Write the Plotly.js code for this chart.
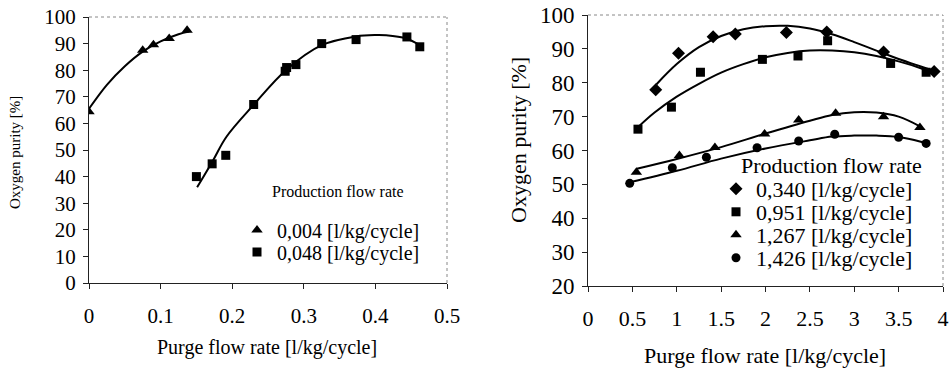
<!DOCTYPE html>
<html><head><meta charset="utf-8">
<script src="https://cdn.plot.ly/plotly-3.0.1.min.js"></script>
<style>body{margin:0;background:#fff}#c{width:951px;height:369px}</style></head>
<body><div id="c"></div>
<script>
// ---- Left chart data ----
const leftTriX = [0.0, 0.075, 0.090, 0.112, 0.137];
const leftTriY = [64.4, 87.5, 89.6, 91.9, 95.0];
const leftTriFitX = [0, 0.025, 0.05, 0.075, 0.1, 0.125, 0.14];
const leftTriFitY = [65.5, 74.5, 81.5, 87.0, 90.8, 93.5, 94.5];
const leftSqX = [0.150, 0.172, 0.191, 0.230, 0.274, 0.276, 0.289, 0.325, 0.373, 0.444, 0.462];
const leftSqY = [40.0, 44.8, 48.0, 67.1, 79.6, 81.0, 82.1, 90.0, 91.5, 92.5, 88.8];
const leftSqFitX = [0.151, 0.173, 0.192, 0.230, 0.275, 0.325, 0.373, 0.401, 0.415, 0.443, 0.462];
const leftSqFitY = [36.0, 46.0, 55.0, 67.0, 80.0, 89.4, 92.7, 93.2, 93.1, 91.9, 89.4];
const leftNames = ["0,004 [l/kg/cycle]", "0,048 [l/kg/cycle]"];

// ---- Right chart data ----
const rDiaX = [0.763, 1.02, 1.41, 1.66, 2.235, 2.69, 3.33, 3.90];
const rDiaY = [77.9, 88.7, 93.6, 94.4, 94.8, 95.0, 89.1, 83.3];
const rDiaFitX = [0.77, 1.0, 1.25, 1.5, 1.75, 2.0, 2.25, 2.5, 2.75, 3.0, 3.25, 3.5, 3.75, 3.9];
const rDiaFitY = [79.5, 85.5, 90.5, 93.8, 95.8, 96.7, 96.8, 96.0, 94.3, 92.0, 89.5, 87.0, 84.8, 83.5];
const rSqX = [0.563, 0.94, 1.267, 1.965, 2.366, 2.70, 3.41, 3.81];
const rSqY = [66.3, 72.8, 83.1, 86.9, 87.9, 92.4, 85.7, 83.1];
const rSqFitX = [0.56, 0.75, 1.0, 1.25, 1.5, 1.75, 2.0, 2.25, 2.5, 2.75, 3.0, 3.25, 3.5, 3.75, 3.82];
const rSqFitY = [66.8, 71.2, 75.9, 79.7, 83.0, 85.5, 87.5, 88.8, 89.5, 89.5, 89.0, 87.9, 86.3, 84.3, 83.6];
const rTriX = [0.545, 1.03, 1.43, 1.99, 2.374, 2.79, 3.33, 3.74];
const rTriY = [53.6, 58.5, 60.9, 64.9, 69.0, 71.0, 70.0, 66.8];
const rTriFitX = [0.55, 1.0, 1.5, 2.0, 2.5, 2.75, 3.0, 3.25, 3.5, 3.75];
const rTriFitY = [54.6, 57.5, 61.0, 65.0, 68.8, 70.5, 71.3, 71.2, 70.0, 67.0];
const rCirX = [0.47, 0.95, 1.334, 1.905, 2.374, 2.78, 3.50, 3.81];
const rCirY = [50.3, 54.9, 58.0, 60.8, 62.8, 64.8, 63.9, 62.1];
const rCirFitX = [0.47, 1.0, 1.5, 2.0, 2.5, 2.75, 3.0, 3.25, 3.5, 3.75, 3.8];
const rCirFitY = [50.6, 54.0, 57.6, 60.6, 63.0, 64.1, 64.4, 64.4, 64.0, 62.6, 62.2];
const rightNames = ["0,340 [l/kg/cycle]", "0,951 [l/kg/cycle]", "1,267 [l/kg/cycle]", "1,426 [l/kg/cycle]"];

const W = 951, H = 369;
const fx = p => p / W, fy = p => 1 - p / H;
const FONT = '"Times New Roman", "Liberation Serif", serif';

function fit(x, y, xa, ya) {
  return {x, y, xaxis: xa, yaxis: ya, mode: 'lines', type: 'scatter', showlegend: false,
    line: {color: '#000', width: 2, shape: 'spline'}, hoverinfo: 'skip'};
}
function pts(x, y, xa, ya, sym, size, name, legend) {
  return {x, y, xaxis: xa, yaxis: ya, mode: 'markers', type: 'scatter', name, legend, showlegend: true,
    marker: {symbol: sym, size, color: '#000'}};
}

const data = [
  fit(leftTriFitX, leftTriFitY, 'x', 'y'),
  fit(leftSqFitX, leftSqFitY, 'x', 'y'),
  pts(leftTriX, leftTriY, 'x', 'y', 'triangle-up', 10, leftNames[0], 'legend'),
  pts(leftSqX, leftSqY, 'x', 'y', 'square', 9, leftNames[1], 'legend2'),
  fit(rDiaFitX, rDiaFitY, 'x2', 'y2'),
  fit(rSqFitX, rSqFitY, 'x2', 'y2'),
  fit(rTriFitX, rTriFitY, 'x2', 'y2'),
  fit(rCirFitX, rCirFitY, 'x2', 'y2'),
  pts(rDiaX, rDiaY, 'x2', 'y2', 'diamond', 10, rightNames[0], 'legend3'),
  pts(rSqX, rSqY, 'x2', 'y2', 'square', 9, rightNames[1], 'legend4'),
  pts(rTriX, rTriY, 'x2', 'y2', 'triangle-up', 10, rightNames[2], 'legend5'),
  pts(rCirX, rCirY, 'x2', 'y2', 'circle', 9, rightNames[3], 'legend6')
];

const axBase = {showgrid: false, zeroline: false, showline: true, linecolor: '#222', linewidth: 1,
  ticks: 'outside', ticklen: 5, tickcolor: '#222', mirror: false, fixedrange: true};

function leg(xLeft, yMid, size) {
  return {x: fx(xLeft), xanchor: 'left', y: fy(yMid), yanchor: 'middle', bgcolor: 'rgba(0,0,0,0)',
    borderwidth: 0, font: {size, family: FONT, color: '#000'}, itemclick: false};
}

const layout = {
  width: W, height: H, margin: {l: 0, r: 0, t: 0, b: 0},
  paper_bgcolor: '#fff', plot_bgcolor: '#fff',
  font: {family: FONT, color: '#000'},
  xaxis: Object.assign({}, axBase, {domain: [fx(89), fx(447)], range: [0, 0.5], dtick: 0.1, tick0: 0,
    anchor: 'y', tickfont: {size: 21, family: FONT}, ticklabelstandoff: 9}),
  yaxis: Object.assign({}, axBase, {domain: [fy(283), fy(17)], range: [0, 100], dtick: 10,
    anchor: 'x', tickfont: {size: 21, family: FONT}, ticklabelstandoff: 3}),
  xaxis2: Object.assign({}, axBase, {domain: [fx(588), fx(943)], range: [0, 4], dtick: 0.5, tick0: 0,
    anchor: 'y2', tickfont: {size: 22, family: FONT}, ticklabelstandoff: 8}),
  yaxis2: Object.assign({}, axBase, {domain: [fy(286), fy(15)], range: [20, 100], dtick: 10,
    anchor: 'x2', tickfont: {size: 23, family: FONT}, ticklabelstandoff: 3}),
  shapes: [
    {type: 'line', xref: 'x domain', yref: 'y domain', x0: 0, x1: 1, y0: 1, y1: 1, line: {color: '#888', width: 1, dash: 'dot'}},
    {type: 'line', xref: 'x domain', yref: 'y domain', x0: 1, x1: 1, y0: 0, y1: 1, line: {color: '#888', width: 1, dash: 'dot'}},
    {type: 'line', xref: 'x2 domain', yref: 'y2 domain', x0: 0, x1: 1, y0: 1, y1: 1, line: {color: '#888', width: 1, dash: 'dot'}},
    {type: 'line', xref: 'x2 domain', yref: 'y2 domain', x0: 1, x1: 1, y0: 0, y1: 1, line: {color: '#888', width: 1, dash: 'dot'}}
  ],
  showlegend: true,
  legend: leg(237, 230, 20),
  legend2: leg(237, 252, 20),
  legend3: leg(716, 189, 22),
  legend4: leg(716, 212, 22),
  legend5: leg(716, 235, 22),
  legend6: leg(716, 258, 22),
  annotations: [
    {text: 'Production flow rate', xref: 'paper', yref: 'paper', x: fx(338), y: fy(191), xanchor: 'center', yanchor: 'middle', showarrow: false, font: {size: 16, family: FONT}},
    {text: 'Production flow rate', xref: 'paper', yref: 'paper', x: fx(831), y: fy(165), xanchor: 'center', yanchor: 'middle', showarrow: false, font: {size: 22, family: FONT}},
    {text: 'Purge flow rate [l/kg/cycle]', xref: 'paper', yref: 'paper', x: fx(267), y: fy(347), xanchor: 'center', yanchor: 'middle', showarrow: false, font: {size: 20, family: FONT}},
    {text: 'Purge flow rate [l/kg/cycle]', xref: 'paper', yref: 'paper', x: fx(765), y: fy(355), xanchor: 'center', yanchor: 'middle', showarrow: false, font: {size: 22, family: FONT}},
    {text: 'Oxygen purity [%]', xref: 'paper', yref: 'paper', x: fx(15), y: fy(153), xanchor: 'center', yanchor: 'middle', textangle: -90, showarrow: false, font: {size: 15, family: FONT}},
    {text: 'Oxygen purity [%]', xref: 'paper', yref: 'paper', x: fx(518), y: fy(140), xanchor: 'center', yanchor: 'middle', textangle: -90, showarrow: false, font: {size: 22, family: FONT}}
  ]
};

Plotly.newPlot('c', data, layout, {staticPlot: true, displayModeBar: false});
</script></body></html>
